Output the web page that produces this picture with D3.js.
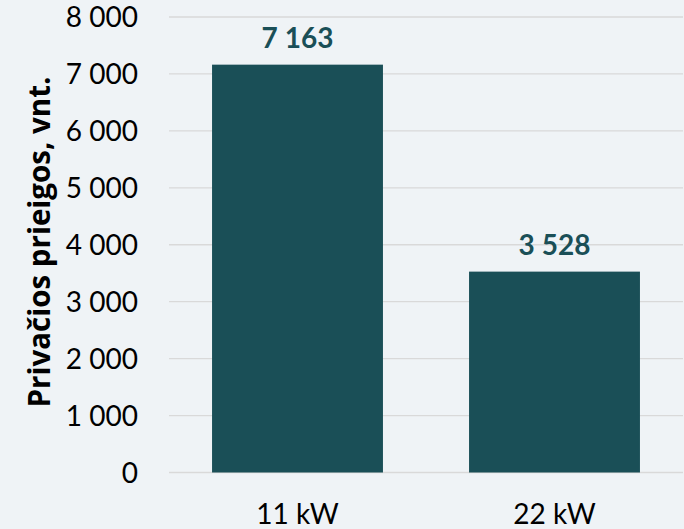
<!DOCTYPE html>
<html><head><meta charset="utf-8">
<script src="https://cdn.jsdelivr.net/npm/d3@7"></script>
<style>
html,body{margin:0;padding:0;background:#eff3f6;}
svg{display:block;font-family:Lato,"Open Sans",sans-serif;}
</style></head>
<body>
<script>
const categories = ["11 kW", "22 kW"];
const values = [7163, 3528];
const yTicks = [0, 1000, 2000, 3000, 4000, 5000, 6000, 7000, 8000];
const yTitle = "Privačios prieigos, vnt.";

const W = 684, H = 529;
const barColor = "#1a4f57";
const fmt = v => d3.format(",")(v).replace(/,/g, " ");

const svg = d3.select("body").append("svg").attr("width", W).attr("height", H);
svg.append("rect").attr("width", W).attr("height", H).attr("fill", "#eff3f6");

const x = d3.scaleBand().domain(categories).range([169, 683]).paddingInner(0.335).paddingOuter(0.1675);
const y = d3.scaleLinear().domain([0, 8000]).range([472.5, 17]);

// gridlines
svg.append("g").selectAll("line").data(yTicks).join("line")
  .attr("x1", 169).attr("x2", 683)
  .attr("y1", d => y(d)).attr("y2", d => y(d))
  .attr("stroke", "#d9d9d9").attr("stroke-width", 1.3);

// y axis labels
const yAxis = d3.axisLeft(y).tickValues(yTicks).tickFormat(fmt).tickSize(0).tickPadding(0);
const gy = svg.append("g").attr("transform", "translate(138,0)").call(yAxis);
gy.select(".domain").remove();
gy.selectAll("text").attr("font-size", 28).attr("fill", "#000").attr("font-family", "Lato,'Open Sans',sans-serif").attr("dy", "0.35em");

// bars
svg.append("g").selectAll("rect").data(values).join("rect")
  .attr("x", (d, i) => x(categories[i]))
  .attr("width", x.bandwidth())
  .attr("y", d => y(d))
  .attr("height", d => y(0) - y(d))
  .attr("fill", barColor);

// value labels
svg.append("g").selectAll("text").data(values).join("text")
  .attr("x", (d, i) => x(categories[i]) + x.bandwidth() / 2)
  .attr("y", d => y(d) - 17)
  .attr("text-anchor", "middle")
  .attr("font-size", 28).attr("font-weight", "bold").attr("fill", barColor)
  .text(d => fmt(d));

// x axis labels
const xAxis = d3.axisBottom(x).tickSize(0).tickPadding(0);
const gx = svg.append("g").attr("transform", "translate(0,524)").call(xAxis);
gx.select(".domain").remove();
gx.selectAll("text").attr("font-size", 28).attr("fill", "#000").attr("font-family", "Lato,'Open Sans',sans-serif").attr("dy", 0);

// y title
svg.append("text")
  .attr("transform", "translate(50,242) rotate(-90)")
  .attr("text-anchor", "middle")
  .attr("font-family", "'Open Sans',Lato,sans-serif")
  .attr("font-size", 29.5).attr("font-weight", "bold").attr("fill", "#000")
  .text(yTitle);
</script>
</body></html>
